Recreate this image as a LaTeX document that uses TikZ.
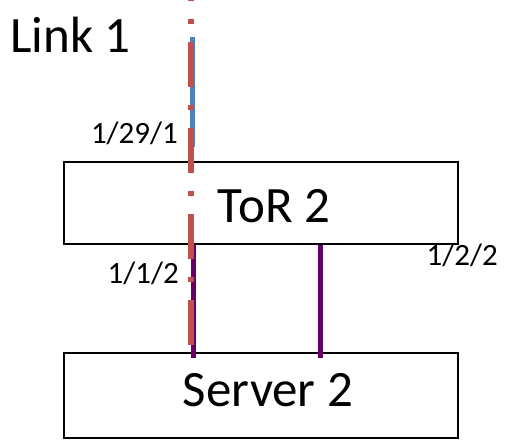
\documentclass[tikz,border=0pt]{standalone}
\usepackage{fontspec}
\setmainfont{Carlito}
\definecolor{linkred}{HTML}{C0504D}
\definecolor{linkblue}{HTML}{4F81BD}
\definecolor{linkpurple}{HTML}{660066}
\begin{document}
\begin{tikzpicture}[x=1pt,y=-1pt,
  devbox/.style={draw=black, line width=2pt, fill=white, inner sep=0pt,
    minimum width=394pt, anchor=north west},
  bigtext/.style={font=\fontsize{51}{60}\selectfont, inner sep=0pt},
  porttext/.style={font=\fontsize{31}{37}\selectfont, inner sep=0pt, anchor=base east},
  redlink/.style={draw=linkred, line width=6pt,
    dash pattern=on 45pt off 18pt on 5pt off 18pt, dash phase=44pt},
  bluelink/.style={draw=linkblue, line width=5pt},
  purplelink/.style={draw=linkpurple, line width=5pt}]
\useasboundingbox (0,0) rectangle (508,441);

% devices
\node[devbox, minimum height=82pt] (tor) at (63,161) {};
\node[devbox, minimum height=85pt] (server) at (63,352) {};

% link endpoints
\coordinate (bluetop) at (192.5,37);
\coordinate (bluebot) at (192.5,147);
\coordinate (redtop) at (191,0);
\coordinate (redend) at (191,345);
\coordinate (pa) at (193,0);
\coordinate (pb) at (320,0);

% links
\draw[bluelink] (bluetop) -- (bluebot);
\draw[purplelink] (tor.south -| pa) -- ([yshift=-6pt]server.north -| pa);
\draw[purplelink] (tor.south -| pb) -- ([yshift=-6pt]server.north -| pb);
\draw[redlink] (redtop) -- (redend);

% labels
\node[bigtext, anchor=base west] (link) at (10,53) {Link 1};
\node[bigtext, anchor=base] (torlabel) at (274,222) {ToR 2};
\node[bigtext, anchor=base] (serverlabel) at (268,406) {Server 2};
\node[porttext] (p1) at (178,143) {1/29/1};
\node[porttext] (p2) at (179,283) {1/1/2};
\node[porttext] (p3) at (498,265) {1/2/2};
\end{tikzpicture}
\end{document}
